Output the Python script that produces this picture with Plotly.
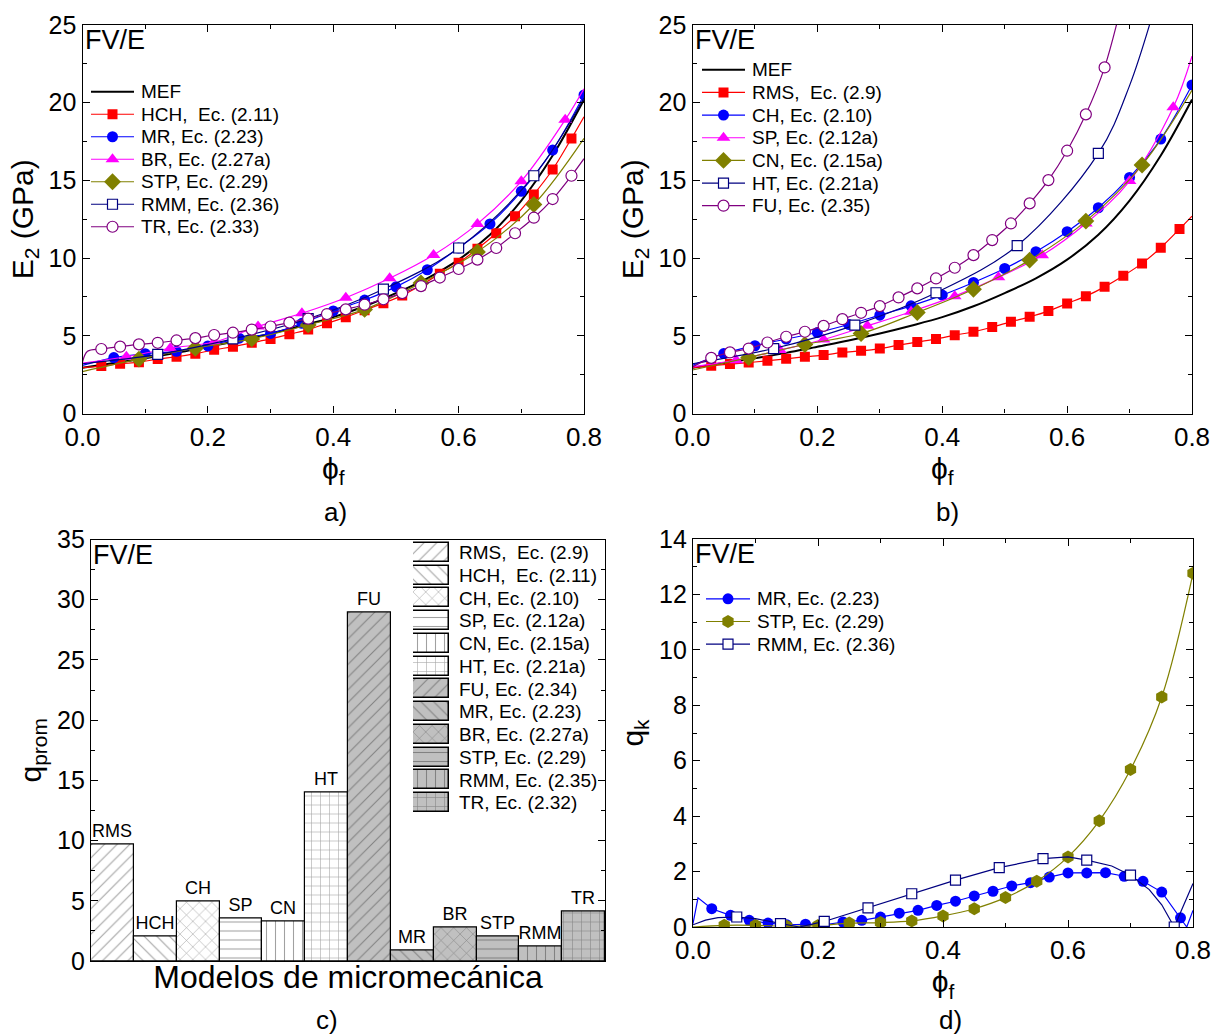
import plotly.graph_objects as go

W, H = 1215, 1036
FONT = "Arial, Liberation Sans, sans-serif"

# ---------------- shared x positions of the markers ----------------
x_03 = [0.03, 0.06, 0.09, 0.12, 0.15, 0.18, 0.21, 0.24, 0.27, 0.30, 0.33, 0.36, 0.39,
        0.42, 0.45, 0.48, 0.51, 0.54, 0.57, 0.60, 0.63, 0.66, 0.69, 0.72, 0.75, 0.78]
x_05 = [0.05, 0.10, 0.15, 0.20, 0.25, 0.30, 0.35, 0.40, 0.45, 0.50, 0.55, 0.60, 0.65,
        0.70, 0.75, 0.80]
x_07 = [0.07, 0.14, 0.21, 0.28, 0.35, 0.42, 0.49, 0.56, 0.63, 0.70, 0.77]
x_09 = [0.09, 0.18, 0.27, 0.36, 0.45, 0.54, 0.63, 0.72]
x_12 = [0.12, 0.24, 0.36, 0.48, 0.60, 0.72]
x_13 = [0.13, 0.26, 0.39, 0.52, 0.65]
x_fu = [0.03, 0.06, 0.09, 0.12, 0.15, 0.18, 0.21, 0.24, 0.27, 0.30, 0.33, 0.36, 0.39,
        0.42, 0.45, 0.48, 0.51, 0.54, 0.57, 0.60, 0.63, 0.66]

# ---------------- MEF (reference FE curve) ----------------
mef_x = [0.0, 0.05, 0.10, 0.15, 0.20, 0.25, 0.30, 0.35, 0.40, 0.45, 0.50, 0.55, 0.60,
         0.65, 0.70, 0.75, 0.80]
mef_y = [2.95, 3.25, 3.55, 3.9, 4.3, 4.7, 5.15, 5.65, 6.2, 6.9, 7.75, 8.7, 9.9,
         11.5, 13.7, 16.6, 20.2]

# ---------------- Panel a) E2 (GPa) ----------------
hch_y = [3.05, 3.2, 3.3, 3.5, 3.65, 3.85, 4.1, 4.3, 4.55, 4.8, 5.1, 5.4, 5.8,
         6.2, 6.65, 7.1, 7.6, 8.25, 9.0, 9.7, 10.6, 11.6, 12.7, 14.1, 15.7, 17.7]
hch_start, hch_end = [(0.0, 2.95)], [(0.80, 19.1)]
mr_a_y = [3.6, 3.85, 4.0, 4.35, 4.85, 5.15, 5.8, 6.6, 7.3, 8.15, 9.25, 10.65, 12.2,
          14.3, 16.95, 20.5]
mr_a_start, mr_a_end = [(0.0, 3.1)], []
br_y = [3.65, 4.2, 4.6, 5.6, 6.45, 7.45, 8.7, 10.2, 12.2, 14.95, 18.9]
br_start, br_end = [(0.0, 3.25)], [(0.80, 20.9)]
stp_a_y = [3.5, 4.2, 4.8, 5.7, 6.7, 8.4, 10.4, 13.45]
stp_a_start, stp_a_end = [(0.0, 2.7)], [(0.80, 17.7)]
rmm_a_y = [3.8, 4.8, 6.1, 8.0, 10.65, 15.3]
rmm_a_start, rmm_a_end = [(0.0, 3.2)], [(0.80, 20.3)]
tr_y = [4.15, 4.3, 4.45, 4.55, 4.7, 4.85, 5.05, 5.2, 5.4, 5.6, 5.85, 6.1, 6.4,
        6.7, 7.0, 7.35, 7.75, 8.2, 8.75, 9.3, 9.9, 10.65, 11.6, 12.6, 13.8, 15.3]
tr_start, tr_end = [(0.0, 3.3), (0.008, 4.0)], [(0.80, 16.4)]

# ---------------- Panel b) E2 (GPa) ----------------
rms_y = [3.07, 3.18, 3.28, 3.39, 3.52, 3.65, 3.76, 3.93, 4.03, 4.18, 4.4, 4.6, 4.79,
         5.04, 5.26, 5.56, 5.9, 6.22, 6.59, 7.08, 7.55, 8.15, 8.86, 9.66, 10.67, 11.87]
rms_start, rms_end = [(0.0, 2.95)], [(0.80, 12.7)]
ch_y = [3.86, 4.36, 4.79, 5.21, 5.73, 6.33, 6.93, 7.62, 8.43, 9.33, 10.41, 11.7,
        13.24, 15.19, 17.66, 21.14]
ch_start, ch_end = [(0.0, 3.1)], []
sp_y = [3.43, 4.08, 4.76, 5.64, 6.55, 7.55, 8.76, 10.19, 12.23, 14.96, 19.7]
sp_start, sp_end = [(0.0, 3.0)], [(0.80, 23.0)]
cn_y = [3.6, 4.44, 5.15, 6.5, 8.0, 9.87, 12.38, 15.99]
cn_start, cn_end = [(0.0, 2.8)], [(0.80, 20.8)]
ht_y = [4.18, 5.69, 7.77, 10.8, 16.74]
ht_start, ht_end = [(0.0, 3.2)], [(0.70, 21.1), (0.75, 27.5)]
fu_y = [3.58, 3.93, 4.18, 4.57, 4.94, 5.26, 5.64, 6.07, 6.48, 6.91, 7.47, 8.05, 8.69,
        9.38, 10.19, 11.16, 12.23, 13.52, 15.02, 16.91, 19.25, 22.27]
fu_start, fu_end = [(0.0, 3.0)], [(0.70, 28.5)]

# ---------------- Panel c) q_prom ----------------
bar_names = ["RMS", "HCH", "CH", "SP", "CN", "HT", "FU", "MR", "BR", "STP", "RMM", "TR"]
bar_eqs = ["RMS,  Ec. (2.9)", "HCH,  Ec. (2.11)", "CH, Ec. (2.10)", "SP, Ec. (2.12a)",
           "CN, Ec. (2.15a)", "HT, Ec. (2.21a)", "FU, Ec. (2.34)", "MR, Ec. (2.23)",
           "BR, Ec. (2.27a)", "STP, Ec. (2.29)", "RMM, Ec. (2.35)", "TR, Ec. (2.32)"]
q_prom = [9.7, 2.0, 4.9, 3.5, 3.3, 14.0, 28.9, 0.9, 2.8, 2.0, 1.2, 4.1]

# ---------------- Panel d) q_k ----------------
mr_d_y = [0.66, 0.42, 0.24, 0.14, 0.08, 0.10, 0.08, 0.18, 0.24, 0.36, 0.50, 0.60, 0.78,
          0.93, 1.12, 1.29, 1.48, 1.60, 1.80, 1.95, 1.95, 1.96, 1.83, 1.65, 1.26, 0.33]
mr_d_start, mr_d_end = [(0.0, 0.12), (0.008, 1.05)], [(0.79, 0.0), (0.80, 0.6)]
stp_d_y = [0.06, 0.06, 0.03, 0.05, 0.14, 0.16, 0.22, 0.40, 0.66, 1.06, 1.65, 2.53,
           3.83, 5.68, 8.30, 12.76]
stp_d_start, stp_d_end = [(0.0, 0.0)], []
rmm_d_y = [0.36, 0.12, 0.20, 0.69, 1.20, 1.69, 2.14, 2.47, 2.41, 1.87, 0.0]
rmm_d_line_x = [0.0, 0.02, 0.04, 0.07, 0.10, 0.14, 0.17, 0.21, 0.28, 0.35, 0.42, 0.49,
                0.56, 0.60, 0.63, 0.67, 0.70, 0.73, 0.75, 0.77, 0.80]
rmm_d_line_y = [0.08, 0.25, 0.34, 0.36, 0.30, 0.12, 0.0, 0.20, 0.69, 1.20, 1.69, 2.14,
                2.47, 2.53, 2.41, 2.20, 1.87, 1.35, 0.80, 0.0, 1.57]

# ---------------- colours ----------------
RED, BLUE, MAG, OLIVE, NAVY, PURP = "#ff0000", "#0000ff", "#ff00ff", "#808000", "#000080", "#800080"
LEG_FS = 19

fig = go.Figure()
legend_entries = {"a": [], "b": [], "d": []}


def series(ax, leg, name, mx, my, start, end, color, symbol, size, open_=False,
           shape="spline", lx=None, ly=None, lw=1.2):
    if lx is None:
        lx = [p[0] for p in start] + list(mx) + [p[0] for p in end]
        ly = [p[1] for p in start] + list(my) + [p[1] for p in end]
    xa, ya = ax
    mk = dict(symbol=symbol, size=size,
              color="white" if open_ else color,
              line=dict(color=color, width=1.2 if open_ else 0))
    fig.add_trace(go.Scatter(x=lx, y=ly, mode="lines", line=dict(color=color, width=lw, shape=shape),
                             xaxis=xa, yaxis=ya, showlegend=False, name=name))
    fig.add_trace(go.Scatter(x=mx, y=my, mode="markers", marker=mk, xaxis=xa, yaxis=ya,
                             showlegend=False, name=name))
    legend_entries[leg].append((name, dict(color=color, width=lw), mk))


def mef(ax, leg):
    xa, ya = ax
    ln = dict(color="black", width=2)
    fig.add_trace(go.Scatter(x=mef_x, y=mef_y, mode="lines", name="MEF",
                             line=dict(ln, shape="spline"), showlegend=False,
                             xaxis=xa, yaxis=ya))
    legend_entries[leg].append(("MEF", ln, None))


# panel a
A = ("x", "y")
mef(A, "a")
series(A, "a", "HCH,  Ec. (2.11)", x_03, hch_y, hch_start, hch_end, RED, "square", 10)
series(A, "a", "MR, Ec. (2.23)", x_05, mr_a_y, mr_a_start, mr_a_end, BLUE, "circle", 11)
series(A, "a", "BR, Ec. (2.27a)", x_07, br_y, br_start, br_end, MAG, "triangle-up", 12)
series(A, "a", "STP, Ec. (2.29)", x_09, stp_a_y, stp_a_start, stp_a_end, OLIVE, "diamond", 13)
series(A, "a", "RMM, Ec. (2.36)", x_12, rmm_a_y, rmm_a_start, rmm_a_end, NAVY, "square", 10, open_=True)
series(A, "a", "TR, Ec. (2.33)", x_03, tr_y, tr_start, tr_end, PURP, "circle", 11, open_=True)

# panel b
B = ("x2", "y2")
mef(B, "b")
series(B, "b", "RMS,  Ec. (2.9)", x_03, rms_y, rms_start, rms_end, RED, "square", 10)
series(B, "b", "CH, Ec. (2.10)", x_05, ch_y, ch_start, ch_end, BLUE, "circle", 11)
series(B, "b", "SP, Ec. (2.12a)", x_07, sp_y, sp_start, sp_end, MAG, "triangle-up", 12)
series(B, "b", "CN, Ec. (2.15a)", x_09, cn_y, cn_start, cn_end, OLIVE, "diamond", 13)
series(B, "b", "HT, Ec. (2.21a)", x_13, ht_y, ht_start, ht_end, NAVY, "square", 10, open_=True)
series(B, "b", "FU, Ec. (2.35)", x_fu, fu_y, fu_start, fu_end, PURP, "circle", 11, open_=True)

# panel c bars
shapes_pat = ["/", "\\", "x", "-", "|", "+", "/", "\\", "x", "-", "|", "+"]
fills = ["white"] * 6 + ["#c0c0c0"] * 6
pattern = dict(shape=shapes_pat, fgcolor="#1a1a1a", bgcolor=fills, size=9, solidity=0.12,
               fillmode="overlay")
fig.add_trace(go.Bar(
    x=bar_names, y=q_prom, text=bar_names, textposition="outside",
    textfont=dict(size=18, color="black", family=FONT), cliponaxis=False,
    marker=dict(color=fills, line=dict(color="black", width=1.2), pattern=pattern),
    xaxis="x3", yaxis="y3", showlegend=False, hoverinfo="skip"))

# legend of panel c: swatches on a small helper axis
swatch = [1] * len(bar_eqs)
fig.add_trace(go.Bar(
    x=swatch, y=bar_eqs, orientation="h", width=0.84,
    marker=dict(color=fills, line=dict(color="black", width=1.5), pattern=pattern),
    xaxis="x5", yaxis="y5", showlegend=False, hoverinfo="skip"))

# panel d
D = ("x4", "y4")
series(D, "d", "MR, Ec. (2.23)", x_03, mr_d_y, mr_d_start, mr_d_end, BLUE, "circle", 11, shape="linear")
series(D, "d", "STP, Ec. (2.29)", x_05, stp_d_y, stp_d_start, stp_d_end, OLIVE, "hexagon", 13, shape="spline")
series(D, "d", "RMM, Ec. (2.36)", x_07, rmm_d_y, None, None, NAVY, "square", 10, open_=True,
       shape="linear", lx=rmm_d_line_x, ly=rmm_d_line_y)

# legends of panels a, b, d: line/marker samples on small helper axes
for key, (xa, ya) in {"a": ("x6", "y6"), "b": ("x7", "y7"), "d": ("x8", "y8")}.items():
    for name, ln, mk in legend_entries[key]:
        fig.add_trace(go.Scatter(x=[0, 1], y=[name, name], mode="lines", line=ln,
                                 xaxis=xa, yaxis=ya, showlegend=False, hoverinfo="skip"))
        if mk is not None:
            fig.add_trace(go.Scatter(x=[0.5], y=[name], mode="markers", marker=mk,
                                     xaxis=xa, yaxis=ya, showlegend=False, hoverinfo="skip"))


def px_x(p):
    return p / W


def px_y(p):
    return 1 - p / H


def axis(domain, anchor, rng=None, dtick=None, minor=None, title=None, tfs=26, standoff=4,
         showticklabels=True, ticks="inside", title_fs=30, **kw):
    d = dict(domain=domain, anchor=anchor, showline=True, linecolor="black", linewidth=1.2,
             mirror="ticks" if ticks else True, ticks=ticks, ticklen=7, tickwidth=1.2,
             tickcolor="black", showgrid=False, zeroline=False, automargin=False,
             tickfont=dict(size=tfs, family=FONT, color="black"),
             showticklabels=showticklabels)
    if rng is not None:
        d["range"] = rng
    if dtick is not None:
        d["dtick"] = dtick
        d["tick0"] = 0
    if minor is not None:
        d["minor"] = dict(dtick=minor, tick0=0, ticks="inside", ticklen=4, tickwidth=1.2,
                          tickcolor="black", showgrid=False)
    if title is not None:
        d["title"] = dict(text=title, font=dict(size=title_fs, family=FONT, color="black"),
                          standoff=standoff)
    d.update(kw)
    return d


def leg_x(x0, x1, anchor):
    return dict(domain=[px_x(x0), px_x(x1)], anchor=anchor, range=[0, 1], visible=False,
                fixedrange=True, automargin=False)


def leg_y(top, bottom, anchor, names, fs, standoff):
    return dict(domain=[px_y(bottom), px_y(top)], anchor=anchor, type="category",
                categoryorder="array", categoryarray=names,
                range=[len(names) - 0.5, -0.5], tickmode="linear", tick0=0, dtick=1,
                side="right", showline=False, showgrid=False, zeroline=False, ticks="",
                ticklabelstandoff=standoff, automargin=False, fixedrange=True,
                tickfont=dict(size=fs, family=FONT, color="black"))


PHI = "ϕ<sub>f</sub>"
xa_dom = [px_x(82.5), px_x(584)]
xb_dom = [px_x(692.5), px_x(1192)]
y_top_dom = [px_y(413.5), px_y(25)]
xc_dom = [px_x(91), px_x(605)]
yc_dom = [px_y(961), px_y(539.5)]
xd_dom = [px_x(693), px_x(1193)]
yd_dom = [px_y(927), px_y(539)]

names_a = [e[0] for e in legend_entries["a"]]
names_b = [e[0] for e in legend_entries["b"]]
names_d = [e[0] for e in legend_entries["d"]]

fig.update_layout(
    width=W, height=H, margin=dict(l=0, r=0, t=0, b=0, autoexpand=False),
    paper_bgcolor="white", plot_bgcolor="rgba(0,0,0,0)",
    font=dict(family=FONT, color="black"),
    bargap=0, showlegend=False,
    xaxis=axis(xa_dom, "y", [0, 0.8], 0.2, 0.1, PHI, standoff=0, tickformat=".1f"),
    yaxis=axis(y_top_dom, "x", [0, 25], 5, 2.5, "E<sub>2</sub> (GPa)", tfs=25, standoff=6),
    xaxis2=axis(xb_dom, "y2", [0, 0.8], 0.2, 0.1, PHI, standoff=0, tickformat=".1f"),
    yaxis2=axis(y_top_dom, "x2", [0, 25], 5, 2.5, "E<sub>2</sub> (GPa)", tfs=25, standoff=6),
    xaxis3=axis(xc_dom, "y3", [-0.5, 11.5], None, None, "Modelos de micromecánica",
                showticklabels=False, ticks="", type="category", title_fs=32),
    yaxis3=axis(yc_dom, "x3", [0, 35], 5, 2.5, "q<sub>prom</sub>", tfs=25, standoff=6),
    xaxis4=axis(xd_dom, "y4", [0, 0.8], 0.2, 0.1, PHI, standoff=0, tickformat=".1f"),
    yaxis4=axis(yd_dom, "x4", [0, 14], 2, 1, "q<sub>k</sub>", tfs=25, standoff=6),
    xaxis5=leg_x(413, 449, "y5"),
    yaxis5=leg_y(541, 814, "x5", bar_eqs, 19, 9),
    xaxis6=leg_x(91, 134, "y6"),
    yaxis6=leg_y(80.5, 238, "x6", names_a, LEG_FS, 6),
    xaxis7=leg_x(702, 745, "y7"),
    yaxis7=leg_y(58.5, 217, "x7", names_b, LEG_FS, 6),
    xaxis8=leg_x(706, 750, "y8"),
    yaxis8=leg_y(587.5, 655.5, "x8", names_d, LEG_FS, 6),
)

ann = []
for xr, yr in [("x domain", "y domain"), ("x2 domain", "y2 domain"),
               ("x3 domain", "y3 domain"), ("x4 domain", "y4 domain")]:
    ann.append(dict(text="FV/E", xref=xr, yref=yr, x=0.0, y=1.0, xanchor="left", yanchor="top",
                    xshift=0, yshift=2, showarrow=False,
                    font=dict(size=27, family=FONT, color="black")))
for lab, xp, yp in [("a)", 335, 512), ("b)", 947, 512), ("c)", 327, 1020), ("d)", 950, 1020)]:
    ann.append(dict(text=lab, xref="paper", yref="paper", x=px_x(xp), y=px_y(yp),
                    xanchor="center", yanchor="middle", showarrow=False,
                    font=dict(size=26, family=FONT, color="black")))
fig.update_layout(annotations=ann)

fig.write_html("out.html")
